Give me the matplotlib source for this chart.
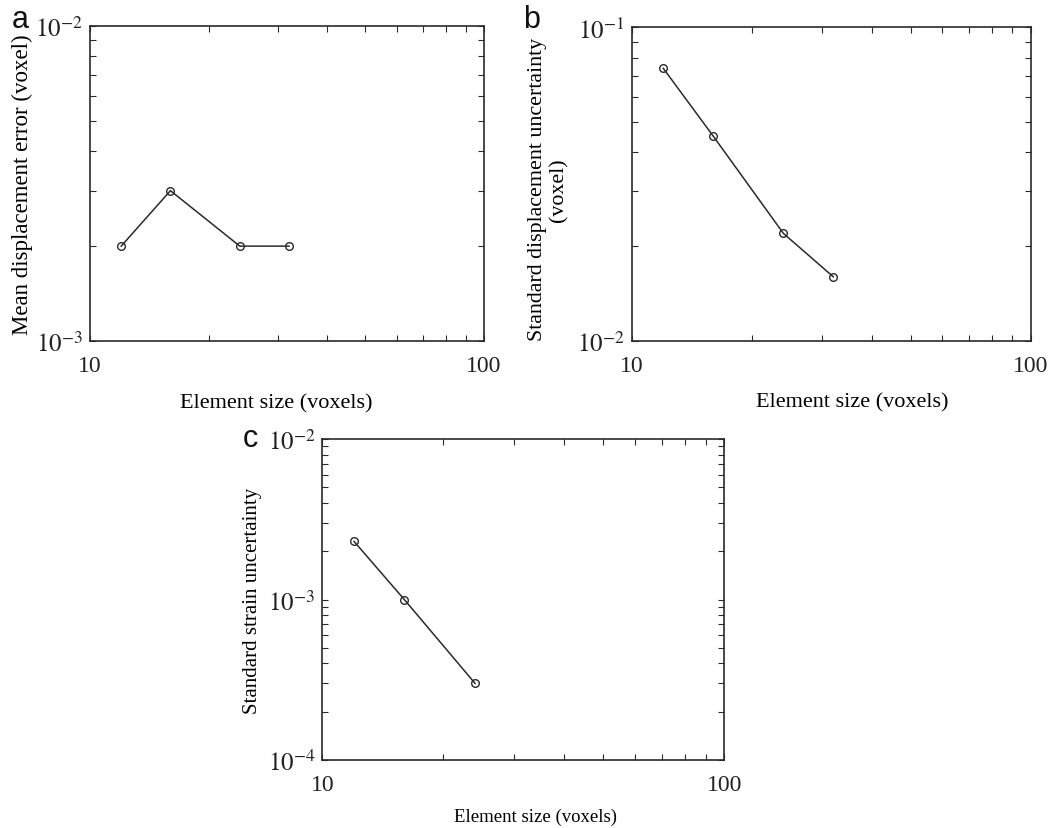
import math
import matplotlib
matplotlib.use("Agg")
import matplotlib.pyplot as plt
from matplotlib.ticker import LogLocator, NullFormatter, FixedLocator

plt.rcParams['font.family'] = ['Liberation Serif', 'DejaVu Serif']
plt.rcParams['mathtext.fontset'] = 'stix'

# data
size_a = [12, 16, 24, 32]
mean_err = [2e-3, 3e-3, 2e-3, 2e-3]
size_b = [12, 16, 24, 32]
std_disp = [0.074, 0.045, 0.022, 0.016]
size_c = [12, 16, 24]
std_strain = [2.3e-3, 1e-3, 3e-4]

xlabel = 'Element size (voxels)'
ylabels = ['Mean displacement error (voxel)',
           'Standard displacement uncertainty\n(voxel)',
           'Standard strain uncertainty']

fig = plt.figure(figsize=(10.59, 8.29), dpi=100)
ax_a = fig.add_axes([0.085, 0.5875, 0.372, 0.380])
ax_b = fig.add_axes([0.5965, 0.5878, 0.3768, 0.378])
ax_c = fig.add_axes([0.3043, 0.0820, 0.3796, 0.3872])

col = '#2a2a2a'


def style(ax, ylim, ydecades):
    ax.set_xscale('log')
    ax.set_yscale('log')
    ax.set_xlim(10, 100)
    ax.set_ylim(*ylim)
    ax.xaxis.set_major_locator(FixedLocator([10, 100]))
    ax.set_xticklabels(['10', '100'])
    ax.yaxis.set_major_locator(FixedLocator(ydecades))
    ax.set_yticklabels([r'$10^{%d}$' % round(math.log10(d)) for d in ydecades])
    ax.xaxis.set_minor_locator(LogLocator(base=10, subs=range(2, 10)))
    ax.yaxis.set_minor_locator(LogLocator(base=10, subs=range(2, 10)))
    ax.xaxis.set_minor_formatter(NullFormatter())
    ax.yaxis.set_minor_formatter(NullFormatter())
    ax.tick_params(which='both', direction='in', top=True, right=True,
                   length=4, width=0.8, color=col, labelcolor='#222222')
    ax.tick_params(axis='x', which='major', pad=10, labelsize=17)
    ax.tick_params(axis='y', which='major', pad=5, labelsize=18)
    for s in ax.spines.values():
        s.set_color(col)
        s.set_linewidth(1.2)


style(ax_a, (1e-3, 1e-2), [1e-3, 1e-2])
ax_a.plot(size_a, mean_err, color=col, lw=1.1, marker='o', ms=5.5, mfc='none', mec=col, mew=1.0)
ax_a.set_xlabel(xlabel, fontsize=16)
ax_a.xaxis.set_label_coords(0.472, -0.165)
ax_a.set_ylabel(ylabels[0], fontsize=16.5, labelpad=2)

style(ax_b, (1e-2, 1e-1), [1e-2, 1e-1])
ax_b.plot(size_b, std_disp, color=col, lw=1.1, marker='o', ms=5.5, mfc='none', mec=col, mew=1.0)
ax_b.set_xlabel(xlabel, fontsize=16)
ax_b.xaxis.set_label_coords(0.552, -0.165)
ax_b.set_ylabel(ylabels[1], fontsize=15.8, labelpad=2)
ax_b.yaxis.set_label_coords(-0.158, 0.485)

style(ax_c, (1e-4, 1e-2), [1e-4, 1e-3, 1e-2])
ax_c.plot(size_c, std_strain, color=col, lw=1.1, marker='o', ms=5.5, mfc='none', mec=col, mew=1.0)
ax_c.set_xlabel(xlabel, fontsize=13.5)
ax_c.xaxis.set_label_coords(0.53, -0.148)
ax_c.set_ylabel(ylabels[2], fontsize=15, labelpad=4)

for letter, x, y in [('a', 0.019, 0.966), ('b', 0.502, 0.966), ('c', 0.236, 0.4608)]:
    fig.text(x, y, letter, fontsize=22, family='Liberation Sans', va='baseline', ha='center', color='#111111')

fig.savefig('out.png', dpi=100)
